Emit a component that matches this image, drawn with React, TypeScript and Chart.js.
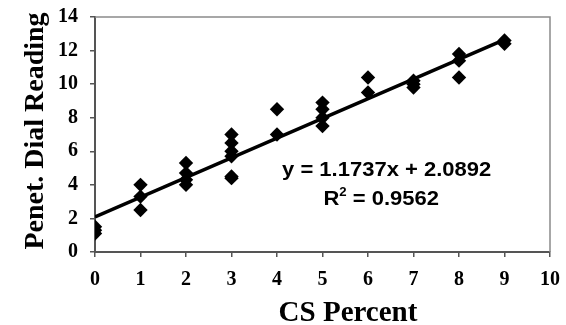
import React, { useEffect, useRef } from "react";
import { Chart, registerables } from "chart.js";

Chart.register(...registerables);

const csPercent = [0, 0, 0, 1, 1, 1, 2, 2, 2, 2, 3, 3, 3, 3, 3, 3, 4, 4, 5, 5, 5, 5, 6, 6, 7, 7, 7, 8, 8, 8, 9, 9];
const dialReading = [1.5, 1.3, 1.1, 4.0, 3.3, 2.5, 5.3, 4.7, 4.3, 4.0, 7.0, 6.5, 6.0, 5.7, 4.5, 4.4, 8.5, 7.0, 8.9, 8.5, 8.0, 7.5, 10.4, 9.5, 10.2, 10.0, 9.8, 11.8, 11.4, 10.4, 12.6, 12.4];
const slope = 1.1737;
const intercept = 2.0892;
const trendRange = [0, 9];
const equationText = "y = 1.1737x + 2.0892";
const rSquaredText = " = 0.9562";
const xTitle = "CS Percent";
const yTitle = "Penet. Dial Reading";

const serif = "'Liberation Serif', 'Times New Roman', serif";
const sans = "'Liberation Sans', Arial, sans-serif";

const framePlugin = {
  id: "frame",
  afterDraw(chart: any) {
    const { ctx, chartArea } = chart;
    ctx.save();
    ctx.strokeStyle = "#8a8a8a";
    ctx.lineWidth = 1.5;
    ctx.beginPath();
    ctx.moveTo(chartArea.left, chartArea.top);
    ctx.lineTo(chartArea.right, chartArea.top);
    ctx.lineTo(chartArea.right, chartArea.bottom);
    ctx.stroke();
    ctx.restore();
  },
};

const titlesPlugin = {
  id: "titles",
  afterDraw(chart: any) {
    const { ctx } = chart;
    ctx.save();
    ctx.fillStyle = "#000";
    ctx.font = `bold 29px ${serif}`;
    ctx.textAlign = "center";
    ctx.textBaseline = "alphabetic";
    ctx.fillText(xTitle, 348, 321);
    ctx.translate(43, 131);
    ctx.rotate(-Math.PI / 2);
    ctx.font = `bold 28px ${serif}`;
    ctx.fillText(yTitle, 0, 0);
    ctx.restore();
  },
};

const equationPlugin = {
  id: "equation",
  afterDatasetsDraw(chart: any) {
    const { ctx, scales } = chart;
    const sx = 1.1;
    const cx1 = scales.x.getPixelForValue(6.41);
    const cx2 = scales.x.getPixelForValue(6.29);
    const y1 = scales.y.getPixelForValue(4.85);
    const y2 = scales.y.getPixelForValue(3.11);
    ctx.save();
    ctx.fillStyle = "#000";
    ctx.textBaseline = "middle";
    ctx.textAlign = "center";
    ctx.font = `bold 20px ${sans}`;
    ctx.save();
    ctx.translate(cx1, y1);
    ctx.scale(sx, 1);
    ctx.fillText(equationText, 0, 0);
    ctx.restore();
    ctx.font = `bold 20px ${sans}`;
    const wBase = ctx.measureText("R").width;
    const wRest = ctx.measureText(rSquaredText).width;
    ctx.font = `bold 12px ${sans}`;
    const wSup = ctx.measureText("2").width;
    const total = wBase + wSup + wRest;
    ctx.save();
    ctx.translate(cx2, y2);
    ctx.scale(sx, 1);
    ctx.textAlign = "left";
    let x = -total / 2;
    ctx.font = `bold 20px ${sans}`;
    ctx.fillText("R", x, 0);
    x += wBase;
    ctx.font = `bold 12px ${sans}`;
    ctx.fillText("2", x, -7);
    x += wSup;
    ctx.font = `bold 20px ${sans}`;
    ctx.fillText(rSquaredText, x, 0);
    ctx.restore();
    ctx.restore();
  },
};

export default function App() {
  const ref = useRef<HTMLCanvasElement>(null);
  useEffect(() => {
    if (!ref.current) return;
    const points = csPercent.map((x, i) => ({ x, y: dialReading[i] }));
    const trend = trendRange.map((x) => ({ x, y: slope * x + intercept }));
    const chart = new Chart(ref.current, {
      type: "scatter",
      data: {
        datasets: [
          {
            label: "Trend",
            type: "line",
            data: trend,
            borderColor: "#000",
            borderWidth: 3.5,
            pointRadius: 0,
            fill: false,
            order: 0,
          } as any,
          {
            label: "Data",
            data: points,
            pointStyle: "rectRot",
            pointRadius: 7.2,
            backgroundColor: "#000",
            borderColor: "#000",
            borderWidth: 0,
            order: 1,
          },
        ],
      },
      plugins: [framePlugin, equationPlugin, titlesPlugin],
      options: {
        animation: false,
        responsive: false,
        maintainAspectRatio: false,
        layout: { padding: { left: 0, top: 17, right: 16, bottom: 0 } },
        plugins: { legend: { display: false }, tooltip: { enabled: false } },
        scales: {
          x: {
            type: "linear",
            min: 0,
            max: 10,
            afterFit: (s: any) => { s.height = 73; s.paddingLeft = 0; s.paddingRight = 0; },
            ticks: { stepSize: 1, color: "#000", padding: 11, font: { family: serif, size: 20, weight: "bold" } },
            grid: { drawOnChartArea: false, drawTicks: true, tickLength: 5, color: "#555", lineWidth: 1.5 },
            border: { display: true, color: "#555", width: 2 },
          },
          y: {
            type: "linear",
            min: 0,
            max: 14,
            afterFit: (s: any) => { s.width = 95; s.paddingTop = 0; s.paddingBottom = 0; },
            ticks: { stepSize: 2, color: "#000", padding: 12, font: { family: serif, size: 20, weight: "bold" } },
            grid: { drawOnChartArea: false, drawTicks: true, tickLength: 5, color: "#555", lineWidth: 1.5 },
            border: { display: true, color: "#555", width: 2 },
          },
        },
      },
    });
    return () => chart.destroy();
  }, []);
  return (
    <div style={{ position: "fixed", left: 0, top: 0, width: 566, height: 325, background: "#fff" }}>
      <canvas ref={ref} width={566} height={325} style={{ width: 566, height: 325 }} />
    </div>
  );
}
